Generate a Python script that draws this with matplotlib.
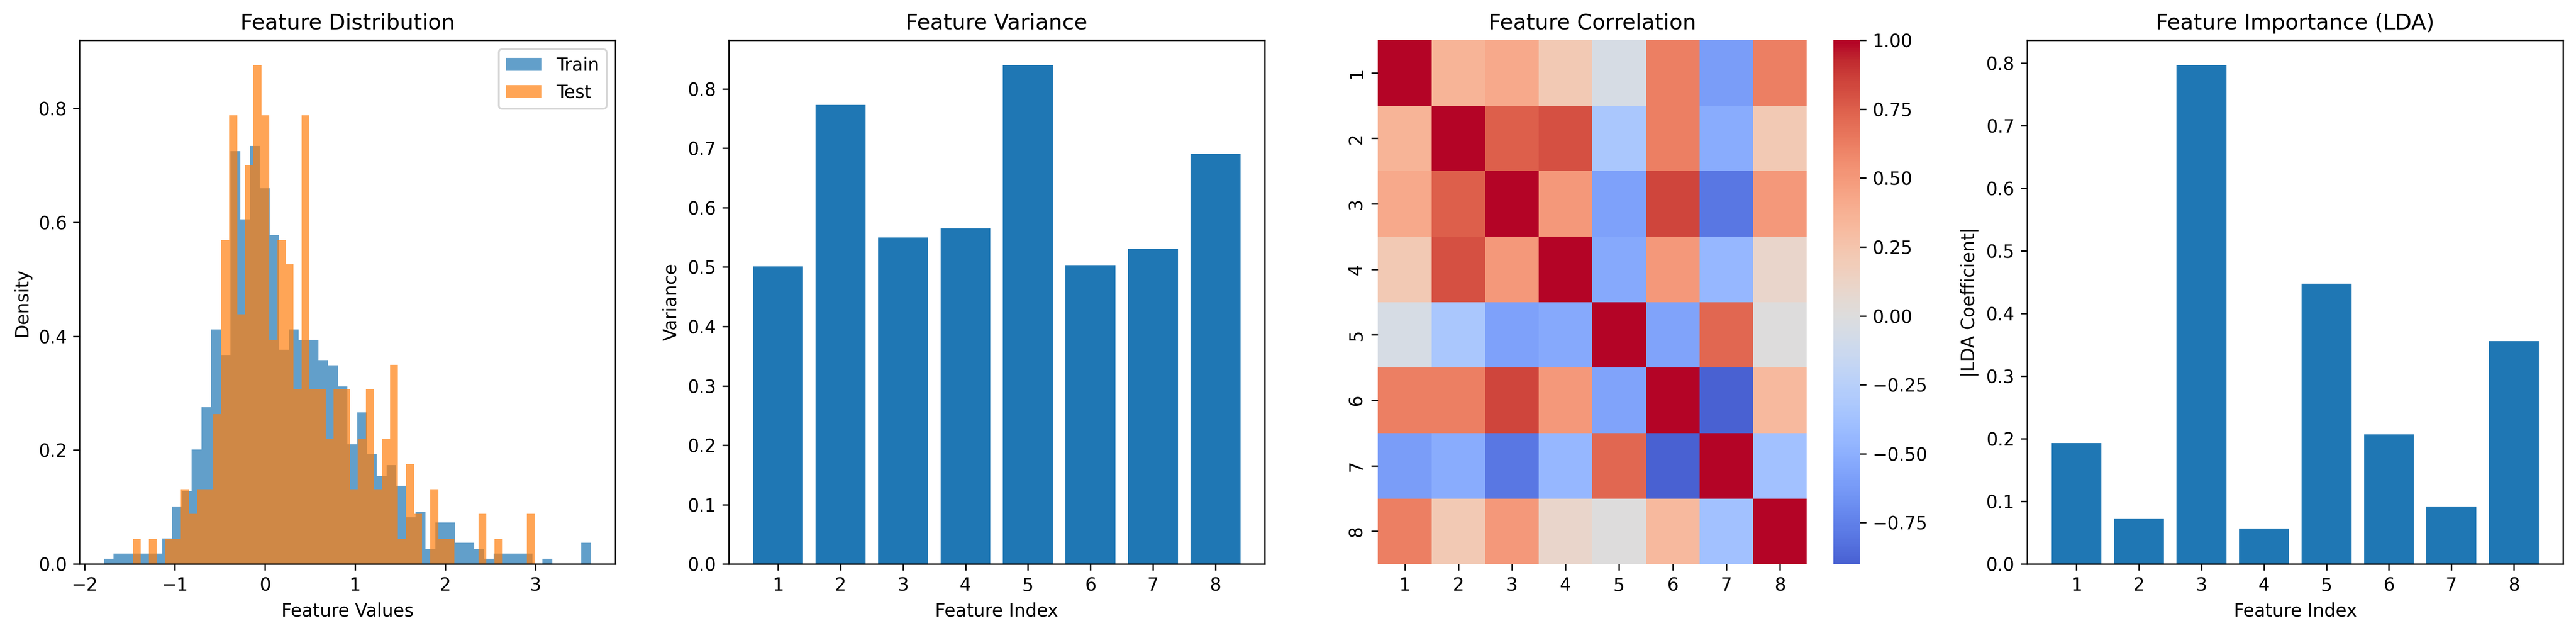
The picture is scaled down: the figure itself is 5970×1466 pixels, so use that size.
import numpy as np
import matplotlib
matplotlib.use('Agg')
import matplotlib.pyplot as plt
import seaborn as sns

# histogram of the first feature (density per bin)
train_range = (-1.788, 3.618)
train_density = [0.009, 0.018, 0.018, 0.018, 0.018, 0.018, 0.045, 0.101, 0.128, 0.201,
                 0.275, 0.412, 0.367, 0.725, 0.605, 0.734, 0.660, 0.578, 0.376, 0.412,
                 0.394, 0.394, 0.358, 0.349, 0.312, 0.210, 0.266, 0.193, 0.155, 0.174,
                 0.137, 0.082, 0.092, 0.027, 0.073, 0.073, 0.037, 0.037, 0.027, 0.009,
                 0.018, 0.018, 0.018, 0.018, 0.000, 0.009, 0.000, 0.000, 0.000, 0.037]
test_range = (-1.468, 2.992)
test_density = [0.044, 0.000, 0.044, 0.000, 0.044, 0.044, 0.131, 0.088, 0.131, 0.131,
                0.263, 0.569, 0.788, 0.438, 0.701, 0.876, 0.788, 0.394, 0.569, 0.526,
                0.307, 0.788, 0.307, 0.307, 0.219, 0.307, 0.307, 0.131, 0.219, 0.307,
                0.131, 0.219, 0.350, 0.044, 0.175, 0.088, 0.000, 0.131, 0.044, 0.044,
                0.000, 0.000, 0.000, 0.088, 0.000, 0.044, 0.000, 0.000, 0.000, 0.088]

features = [1, 2, 3, 4, 5, 6, 7, 8]
variance = [0.501, 0.773, 0.550, 0.565, 0.840, 0.503, 0.531, 0.691]
lda_coef = [0.193, 0.072, 0.797, 0.057, 0.448, 0.207, 0.092, 0.356]

corr = np.array([
    [1.00, 0.35, 0.42, 0.22, -0.05, 0.62, -0.60, 0.62],
    [0.35, 1.00, 0.75, 0.80, -0.33, 0.62, -0.52, 0.22],
    [0.42, 0.75, 1.00, 0.50, -0.58, 0.85, -0.80, 0.50],
    [0.22, 0.80, 0.50, 1.00, -0.53, 0.50, -0.45, 0.10],
    [-0.05, -0.33, -0.58, -0.53, 1.00, -0.57, 0.72, 0.00],
    [0.62, 0.62, 0.85, 0.50, -0.57, 1.00, -0.90, 0.32],
    [-0.60, -0.52, -0.80, -0.45, 0.72, -0.90, 1.00, -0.38],
    [0.62, 0.22, 0.50, 0.10, 0.00, 0.32, -0.38, 1.00],
])

fig, axes = plt.subplots(1, 4, figsize=(20, 5))

# Feature distribution
train_edges = np.linspace(train_range[0], train_range[1], len(train_density) + 1)
test_edges = np.linspace(test_range[0], test_range[1], len(test_density) + 1)
axes[0].hist(train_edges[:-1], bins=train_edges, weights=train_density, alpha=0.7, label='Train')
axes[0].hist(test_edges[:-1], bins=test_edges, weights=test_density, alpha=0.7, label='Test')
axes[0].set_title('Feature Distribution')
axes[0].set_xlabel('Feature Values')
axes[0].set_ylabel('Density')
axes[0].legend(loc='upper right')

# Feature variance
axes[1].bar(features, variance)
axes[1].set_title('Feature Variance')
axes[1].set_xlabel('Feature Index')
axes[1].set_ylabel('Variance')
axes[1].set_xticks(features)

# Correlation heatmap
sns.heatmap(corr, cmap='coolwarm', center=0, ax=axes[2],
            xticklabels=features, yticklabels=features)
axes[2].set_title('Feature Correlation')

# LDA importance
axes[3].bar(features, lda_coef)
axes[3].set_title('Feature Importance (LDA)')
axes[3].set_xlabel('Feature Index')
axes[3].set_ylabel('|LDA Coefficient|')
axes[3].set_xticks(features)

plt.tight_layout()
plt.savefig('out.png', dpi=300, bbox_inches='tight')
